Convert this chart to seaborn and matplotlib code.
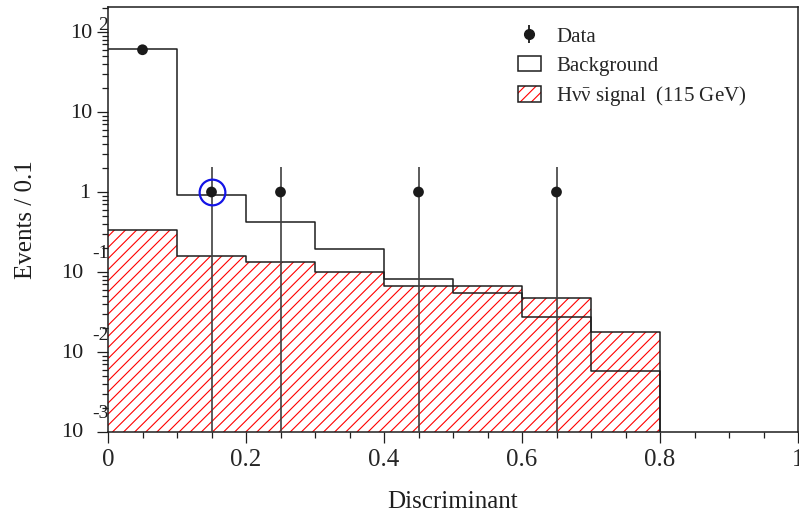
import numpy as np
import pandas as pd
import matplotlib
matplotlib.use("Agg")
import matplotlib.pyplot as plt
import seaborn as sns
from matplotlib import transforms
from matplotlib.patches import Patch
from matplotlib.lines import Line2D
from matplotlib.legend_handler import HandlerTuple

# ---------------- data ----------------
bin_edges = [0.0, 0.1, 0.2, 0.3, 0.4, 0.5, 0.6, 0.7, 0.8, 0.9, 1.0]
background = [62.0, 0.92, 0.425, 0.194, 0.081, 0.054, 0.027, 0.0058, 0.0, 0.0]
signal = [0.335, 0.158, 0.135, 0.099, 0.066, 0.067, 0.047, 0.0176, 0.0, 0.0]
data_x = [0.05, 0.15, 0.25, 0.45, 0.65]
data_y = [60.0, 1.0, 1.0, 1.0, 1.0]
data_err_lo = [7.7, 1.0, 1.0, 1.0, 1.0]
data_err_hi = [7.7, 1.03, 1.03, 1.03, 1.03]
highlight_x = [0.15]
highlight_y = [1.0]
xtick_vals = [0.0, 0.2, 0.4, 0.6, 0.8, 1.0]
xtick_labels = ["0", "0.2", "0.4", "0.6", "0.8", "1"]
ytick_vals = [1e-3, 1e-2, 1e-1, 1.0, 10.0, 100.0]
ytick_mant = ["10", "10", "10", "1", "10", "10"]
ytick_exp = ["-3", "-2", "-1", "", "", "2"]
legend_labels = ["Data", "Background",
                 "H\u03bd$\\mathrm{\\bar{\\nu}}$ signal  (115 GeV)"]

centers = [(a + b) / 2 for a, b in zip(bin_edges[:-1], bin_edges[1:])]
hist_df = pd.DataFrame({"x": centers, "bkg": background, "sig": signal})

# ---------------- style ----------------
sns.set_style("ticks")
plt.rcParams["font.family"] = ["Liberation Serif", "DejaVu Serif"]
plt.rcParams["mathtext.fontset"] = "custom"
plt.rcParams["mathtext.rm"] = "Liberation Serif"
plt.rcParams["mathtext.it"] = "Liberation Serif:italic"
plt.rcParams["mathtext.fallback"] = "stix"
plt.rcParams["hatch.linewidth"] = 0.8
plt.rcParams["hatch.color"] = "red"
plt.rcParams["axes.linewidth"] = 1.1

fig = plt.figure(figsize=(7.99, 5.15), dpi=100)
ax = fig.add_axes([108 / 799, 83 / 515, 690 / 799, 425 / 515])
ax.set_yscale("log")

line_col = "#1e1e1e"

# signal hatched fill
sns.histplot(data=hist_df, x="x", weights="sig", bins=bin_edges, element="step",
             fill=True, color="red", facecolor="none", edgecolor="red", linewidth=0,
             hatch="///", ax=ax, zorder=1)
# signal outline
sns.histplot(data=hist_df, x="x", weights="sig", bins=bin_edges, element="step",
             fill=False, color=line_col, linewidth=1.1, ax=ax, zorder=2)
# background outline
sns.histplot(data=hist_df, x="x", weights="bkg", bins=bin_edges, element="step",
             fill=False, color=line_col, linewidth=1.1, ax=ax, zorder=3)

# data
ax.errorbar(data_x, data_y, yerr=[data_err_lo, data_err_hi], fmt="none",
            ecolor="#404040", elinewidth=1.2, capsize=0, zorder=4)
sns.scatterplot(x=data_x, y=data_y, s=60, color="#1a1a1a", edgecolor="none",
                ax=ax, zorder=5, legend=False)
ax.plot(highlight_x, highlight_y, marker="o", ms=18.5, mfc="none", mec="#1414e6",
        mew=1.6, ls="none", zorder=6)

# axes
ax.set_xlim(0, 1)
ax.set_ylim(1e-3, 10 ** 2.3125)
ax.set_xticks(xtick_vals)
ax.set_xticklabels(xtick_labels, fontsize=18)
ax.set_xticks(np.arange(0, 1.0001, 0.05), minor=True)
ax.set_yticks(ytick_vals)
ax.set_yticklabels([""] * len(ytick_vals))
ax.yaxis.set_minor_locator(matplotlib.ticker.LogLocator(base=10, subs=np.arange(2, 10)))
ax.yaxis.set_minor_formatter(matplotlib.ticker.NullFormatter())
ax.tick_params(axis="both", which="major", direction="out", length=8, width=0.9,
               color=line_col)
ax.tick_params(axis="both", which="minor", direction="out", length=4, width=0.9,
               color=line_col)
ax.tick_params(axis="x", which="major", pad=4)
for s in ax.spines.values():
    s.set_visible(True)
    s.set_color(line_col)

# y tick labels in ROOT style (mantissa + raised exponent)
base_tr = ax.get_yaxis_transform()
for i, (v, m, e) in enumerate(zip(ytick_vals, ytick_mant, ytick_exp)):
    if e.startswith("-"):
        mdx, edx, edy = -25, -16, (18 if e != "-2" else 16)
    else:
        mdx, edx, edy = (-16 if m == "10" else -18), -10, 7
    tr = transforms.offset_copy(base_tr, fig=fig, x=mdx, y=-1, units="dots")
    ax.text(0, v, m, transform=tr, ha="right", va="center", fontsize=16,
            color=line_col)
    if e:
        tr2 = transforms.offset_copy(base_tr, fig=fig, x=edx, y=edy, units="dots")
        ax.text(0, v, e, transform=tr2, ha="left", va="center", fontsize=14,
                color=line_col)

ax.set_xlabel("Discriminant", fontsize=18, labelpad=15, color=line_col)
ax.set_ylabel("Events / 0.1", fontsize=18, color=line_col)
ax.yaxis.set_label_coords(-0.103, 0.5)

# legend
h_data = (Line2D([], [], marker="|", ms=13, mew=1.3, color="#1a1a1a", ls="none"),
          Line2D([], [], marker="o", ms=7, color="#1a1a1a", ls="none"))
h_bkg = Patch(facecolor="white", edgecolor=line_col, linewidth=1.1)
h_sig = (Patch(facecolor="none", edgecolor="red", hatch="///", linewidth=0),
         Patch(facecolor="none", edgecolor=line_col, linewidth=1.1))
ax.legend([h_data, h_bkg, h_sig], legend_labels,
          handler_map={tuple: HandlerTuple(ndivide=1)},
          loc="upper left", bbox_to_anchor=(0.594, 0.953), frameon=False,
          fontsize=15, handlelength=1.1, handleheight=0.75,
          handletextpad=0.75, labelspacing=0.42, borderpad=0, borderaxespad=0)

fig.savefig("out.png", dpi=100)
